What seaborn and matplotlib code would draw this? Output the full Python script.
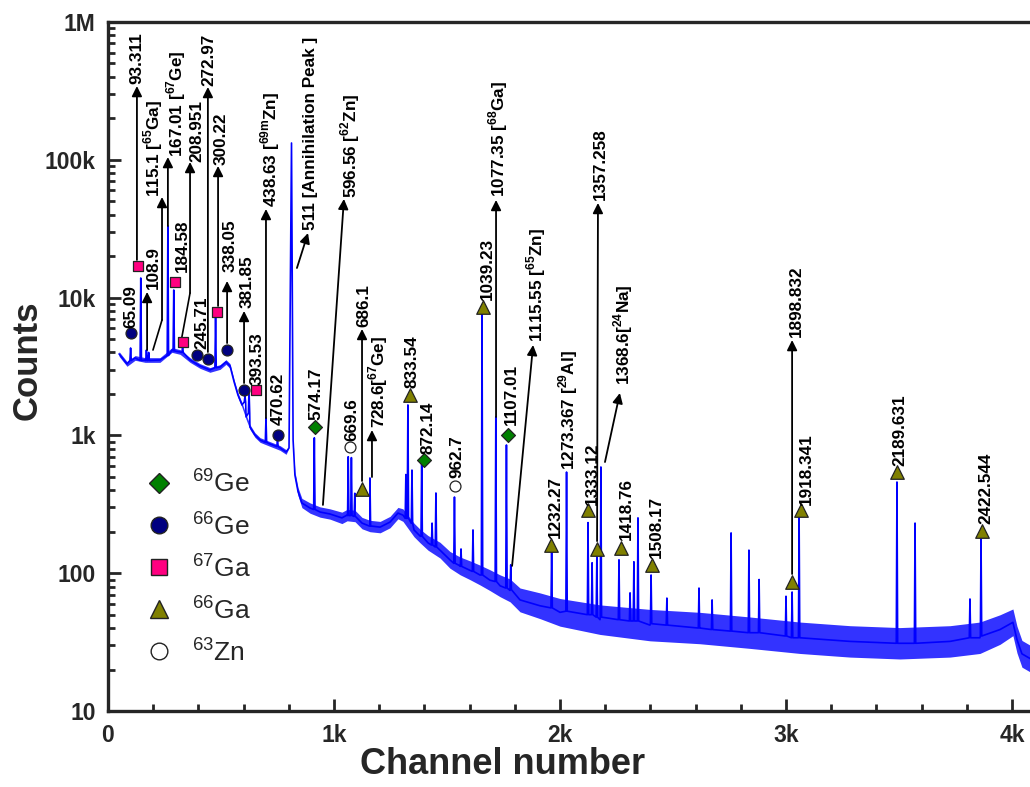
import matplotlib
matplotlib.use("Agg")
import numpy as np
import pandas as pd
import matplotlib.pyplot as plt
import seaborn as sns
from matplotlib.ticker import FixedLocator, FixedFormatter, NullFormatter
from matplotlib.lines import Line2D

# ---------------- spectrum background (channel, counts) ----------------
spectrum_ch = [49, 84, 120, 164, 230, 283, 319, 363, 407, 451,
               496, 522, 540, 558, 575, 593, 611, 628, 650, 673,
               717, 761, 788, 801, 812, 819, 827, 841, 858, 894,
               938, 982, 1035, 1058, 1093, 1124, 1159, 1204, 1248, 1283,
               1305, 1354, 1381, 1416, 1469, 1513, 1558, 1602, 1646, 1690,
               1735, 1779, 1823, 1912, 2000, 2177, 2398, 2619, 2841, 3062,
               3283, 3504, 3726, 3858, 3947, 4004, 4022, 4044, 4100]
spectrum_counts = [3900, 3300, 3650, 3525, 3525, 4165, 4030, 3525, 3190, 2985,
                   3135, 3410, 3190, 2443, 1963, 1663, 1361, 1151, 1007, 926,
                   866, 811, 758, 811, 132400, 926, 516, 390, 323, 297,
                   278, 269, 252, 264, 260, 231, 220, 216, 235, 273,
                   264, 206, 186, 166, 147, 125, 113, 105, 97, 89,
                   81, 75, 64, 58, 52, 46, 42, 40, 37, 34,
                   32, 31, 32, 34, 39, 44, 33, 26, 23]
# multiplicative spread of the statistical scatter around the background
noise_spread = [1.04, 1.04, 1.04, 1.04, 1.04, 1.04, 1.04, 1.04, 1.04, 1.04,
                1.04, 1.04, 1.04, 1.04, 1.04, 1.04, 1.04, 1.04, 1.04, 1.04,
                1.04, 1.04, 1.04, 1.0, 1.0, 1.0, 1.06, 1.07, 1.08, 1.09,
                1.09, 1.09, 1.1, 1.1, 1.1, 1.1, 1.1, 1.1, 1.1, 1.1,
                1.11, 1.12, 1.12, 1.13, 1.14, 1.15, 1.16, 1.17, 1.18, 1.19,
                1.2, 1.21, 1.22, 1.24, 1.26, 1.28, 1.3, 1.3, 1.3, 1.3,
                1.3, 1.3, 1.3, 1.3, 1.28, 1.25, 1.25, 1.25, 1.25]

# ---------------- gamma lines: channel, local background, peak counts ----------------
line_ch = [100, 145, 170, 180, 265, 291, 330, 476, 606, 624,
           699, 750, 913, 1063, 1077, 1092, 1159, 1318, 1327, 1345,
           1388, 1434, 1451, 1533, 1562, 1615, 1655, 1716, 1763, 1782,
           1963, 2029, 2124, 2142, 2163, 2181, 2261, 2310, 2327, 2345,
           2403, 2473, 2615, 2673, 2757, 2836, 2881, 3000, 3027, 3058,
           3491, 3571, 3814, 3863]
line_base = [3500, 3500, 3500, 3500, 3800, 4100, 4000, 3100, 1750, 1450,
             890, 830, 290, 262, 262, 258, 220, 250, 250, 230,
             185, 160, 155, 118, 112, 103, 97, 87, 78, 76,
             56, 53, 50, 50, 48, 48, 46, 45, 45, 45,
             43, 42, 40, 39, 38, 37, 37, 35, 34, 34,
             31, 31, 34, 35]
line_top = [4310, 13870, 4165, 4000, 33100, 11350, 4400, 7230, 1930, 2135,
            1337, 930, 960, 700, 690, 380, 491, 520, 1663, 560,
            663, 231, 382, 357, 150, 206, 7600, 1361, 852, 115,
            143, 542, 233, 119, 131, 590, 125, 72, 121, 252,
            97, 66, 78, 64, 196, 147, 90, 68, 73, 252,
            459, 231, 65, 177]

# ---------------- identified lines by nuclide ----------------
nuclides = ["69Ge", "66Ge", "67Ga", "66Ga", "63Zn"]
nuclide_labels = ["$^{\\mathrm{69}}$Ge", "$^{\\mathrm{66}}$Ge", "$^{\\mathrm{67}}$Ga",
                  "$^{\\mathrm{66}}$Ga", "$^{\\mathrm{63}}$Zn"]
mark_nuclide = (["66Ge"] * 6 + ["67Ga"] * 5 + ["69Ge"] * 3 + ["66Ga"] * 12 + ["63Zn"] * 2)
mark_ch = [102, 394, 442, 527, 602, 752,
           133, 296, 332, 482, 655,
           916, 1398, 1770,
           1124, 1336, 1659, 1960, 2124, 2164, 2270, 2407, 3027, 3066, 3491, 3867,
           1071, 1535]
mark_counts = [5530, 3830, 3585, 4165, 2135, 1007,
               16950, 12980, 4760, 7860, 2135,
               1151, 663, 1007,
               408, 1963, 8550, 160, 288, 150, 152, 115, 86, 288, 542, 202,
               824, 430]

# ---------------- energy labels (keV) ----------------
label_text = ["65.09", "93.311", "108.9", "115.1 [$^{\\mathbf{65}}$Ga]",
              "167.01 [$^{\\mathbf{67}}$Ge]", "184.58", "208.951", "245.71",
              "272.97", "300.22", "338.05", "381.85", "393.53",
              "438.63 [$^{\\mathbf{69m}}$Zn]", "470.62", "511 [Annihilation Peak ]",
              "574.17", "596.56 [$^{\\mathbf{62}}$Zn]", "669.6", "686.1",
              "728.6[$^{\\mathbf{67}}$Ge]", "833.54", "872.14", "962.7", "1039.23",
              "1077.35 [$^{\\mathbf{68}}$Ga]", "1107.01", "1115.55 [$^{\\mathbf{65}}$Zn]",
              "1232.27", "1273.367 [$^{\\mathbf{29}}$Al]", "1333.12", "1357.258",
              "1368.6[$^{\\mathbf{24}}$Na]", "1418.76", "1508.17", "1898.832",
              "1918.341", "2189.631", "2422.544"]
label_ch = [102, 126, 199, 199, 301, 327, 393, 416, 447, 500, 540, 615, 659,
            717, 752, 894, 920, 1071, 1080, 1133, 1195, 1345, 1416, 1544, 1677,
            1726, 1783, 1894, 1978, 2035, 2142, 2177, 2279, 2292, 2425, 3044,
            3088, 3504, 3885]
label_counts = [6015, 355000, 11540, 53700, 104700, 15340, 96400, 4240, 343000,
                91600, 15340, 8410, 2320, 45400, 1190, 30960, 1294, 52800, 910,
                6120, 1132, 2208, 733, 491, 9610, 53700, 1190, 4760, 180, 561,
                313, 51100, 2320, 174, 129, 5180, 313, 600, 228]

# arrows from a peak to its label
arrow_tail = [(128, 18750), (173, 4165), (239, 6880), (265, 33100), (363, 10790),
              (442, 4030), (487, 8690), (527, 4680), (602, 2400), (699, 1337),
              (836, 16400), (951, 313), (1124, 467), (1168, 499), (1717, 1361),
              (1788, 113), (2164, 171), (2199, 641), (3027, 98.7)]
arrow_head = [(128, 343000), (173, 10990), (239, 53700), (265, 104700), (363, 96400),
              (442, 337500), (487, 90200), (527, 13200), (602, 8000), (699, 43950),
              (885, 29400), (1044, 52000), (1124, 5920), (1168, 1094), (1717, 51100),
              (1881, 4530), (2168, 48600), (2265, 2030), (3027, 4920)]
# short leader lines feeding into two of the arrows
leader_start = [(199, 4165), (327, 5180)]
leader_end = [(239, 6880), (363, 10790)]

# ---------------- styling ----------------
sns.set_theme(style="ticks")
plt.rcParams["font.family"] = ["Liberation Sans", "DejaVu Sans"]
plt.rcParams["mathtext.fontset"] = "custom"
plt.rcParams["mathtext.rm"] = "Liberation Sans"
plt.rcParams["mathtext.bf"] = "Liberation Sans:bold"

marker_style = {
    "69Ge": dict(marker="D", fc="#008000", s=50, ms=10.5),
    "66Ge": dict(marker="o", fc="#000080", s=62, ms=12),
    "67Ga": dict(marker="s", fc="#FF0080", s=60, ms=11.5),
    "66Ga": dict(marker="^", fc="#808000", s=95, ms=13),
    "63Zn": dict(marker="o", fc="white", s=62, ms=12),
}

fig = plt.figure(figsize=(10.30, 7.87), dpi=100)
ax = fig.add_axes([108 / 1030, 1 - 711 / 787, 926.6 / 1030, 689 / 787])

# background scatter band
lo = np.array(spectrum_counts) / np.array(noise_spread)
hi = np.array(spectrum_counts) * np.array(noise_spread)
ax.fill_between(spectrum_ch, lo, hi, color="#0000FF", alpha=0.8, lw=0, zorder=2)

# full trace: background with the gamma lines spliced in
pts = list(zip(spectrum_ch, spectrum_counts))
for c, b, t in zip(line_ch, line_base, line_top):
    pts += [(c - 3, b), (c, t), (c + 3, b)]
pts.sort(key=lambda p: p[0])
trace = pd.DataFrame(pts, columns=["channel", "counts"])
sns.lineplot(data=trace, x="channel", y="counts", sort=False, estimator=None,
             color="#0000FF", lw=1.2, ax=ax, zorder=3)

# nuclide markers
marks = pd.DataFrame({"nuclide": mark_nuclide, "channel": mark_ch, "counts": mark_counts})
for nuc in nuclides:
    sub = marks[marks["nuclide"] == nuc]
    st = marker_style[nuc]
    sns.scatterplot(data=sub, x="channel", y="counts", marker=st["marker"],
                    color=st["fc"], edgecolor="#222222", linewidth=0.9, s=st["s"],
                    ax=ax, zorder=6, legend=False)

# arrows and leaders
for (x0, y0), (x1, y1) in zip(leader_start, leader_end):
    ax.plot([x0, x1], [y0, y1], color="black", lw=1.2, zorder=5)
for tail, head in zip(arrow_tail, arrow_head):
    ax.annotate("", xy=head, xytext=tail,
                arrowprops=dict(arrowstyle="-|>", color="black", lw=1.3,
                                mutation_scale=15, shrinkA=0, shrinkB=0),
                zorder=5)

# energy labels
for txt, c, n in zip(label_text, label_ch, label_counts):
    ax.text(c, n, txt, rotation=90, ha="center", va="bottom", fontsize=12.3,
            fontweight="bold", color="black", zorder=7)

# axes
ax.set_yscale("log")
ax.set_xlim(0, 4100)
ax.set_ylim(10, 1e6)
ax.yaxis.set_major_locator(FixedLocator([10, 100, 1e3, 1e4, 1e5, 1e6]))
ax.yaxis.set_major_formatter(FixedFormatter(["10", "100", "1k", "10k", "100k", "1M"]))
ax.yaxis.set_minor_locator(FixedLocator([m * 10 ** e for e in range(1, 6) for m in range(2, 10)]))
ax.yaxis.set_minor_formatter(NullFormatter())
ax.xaxis.set_major_locator(FixedLocator([0, 1000, 2000, 3000, 4000]))
ax.xaxis.set_major_formatter(FixedFormatter(["0", "1k", "2k", "3k", "4k"]))
ax.xaxis.set_minor_locator(FixedLocator([200, 400, 600, 800, 1200, 1400, 1600, 1800,
                                         2200, 2400, 2600, 2800, 3200, 3400, 3600, 3800]))
ax.tick_params(which="both", direction="in", width=2, top=False, right=False)
ax.tick_params(which="major", length=9, labelsize=16.5)
ax.tick_params(axis="y", which="major", pad=9)
ax.tick_params(axis="x", which="major", pad=9)
ax.tick_params(which="minor", length=5)
for lab in ax.get_xticklabels() + ax.get_yticklabels():
    lab.set_fontweight("bold")
for side in ["left", "bottom", "top", "right"]:
    ax.spines[side].set_linewidth(2.4)
    ax.spines[side].set_visible(True)

ax.set_xlabel("Channel number", fontsize=26, fontweight="bold", va="baseline")
ax.xaxis.set_label_coords((503 - 108) / 926.6, (711 - 774) / 689)
ax.set_ylabel("Counts", fontsize=25, fontweight="bold")
ax.yaxis.set_label_coords((44 - 108) / 926.6, (711 - 360) / 689)

handles = []
for nuc in nuclides:
    st = marker_style[nuc]
    handles.append(Line2D([], [], ls="none", marker=st["marker"], markerfacecolor=st["fc"],
                          markeredgecolor="#222222", markeredgewidth=1.0, markersize=st["ms"]))
ax.legend(handles, nuclide_labels, loc="upper left", bbox_to_anchor=(0.041, 0.351),
          frameon=False, fontsize=19, handlelength=1.0, handletextpad=0.75,
          labelspacing=0.54, borderpad=0, borderaxespad=0)

fig.savefig("out.png", dpi=100)
